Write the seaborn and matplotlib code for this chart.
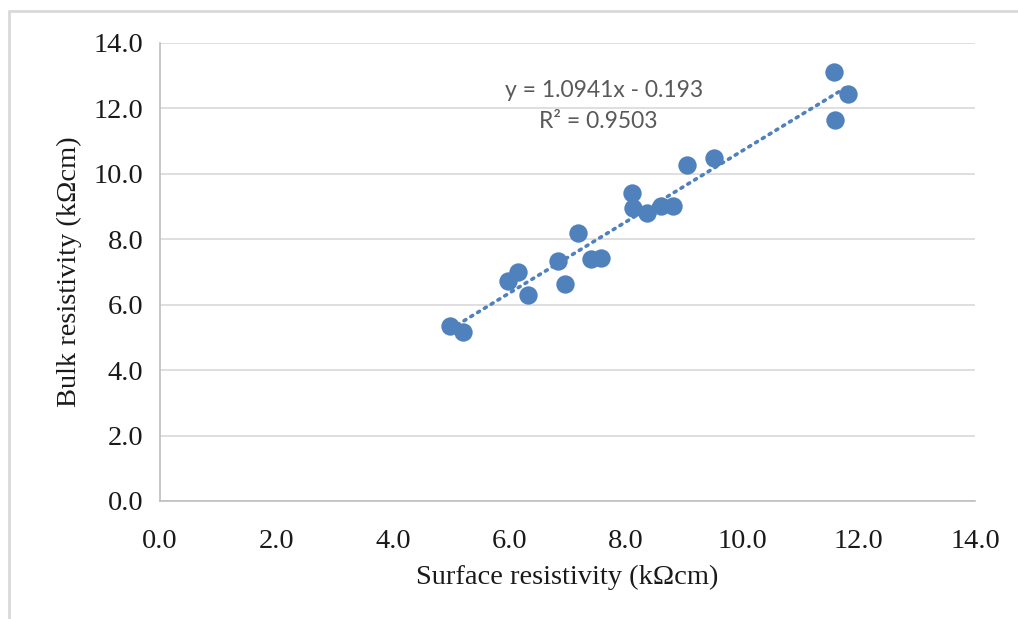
import numpy as np
import pandas as pd
import matplotlib
matplotlib.use("Agg")
import matplotlib.pyplot as plt
import seaborn as sns

surface = [4.99, 5.21, 5.98, 6.15, 6.33, 6.83, 6.96, 7.18, 7.40, 7.58,
           8.11, 8.13, 8.37, 8.60, 8.82, 9.06, 9.52, 11.57, 11.60, 11.81]
bulk = [5.35, 5.18, 6.72, 6.99, 6.30, 7.35, 6.64, 8.20, 7.39, 7.43,
        9.43, 8.97, 8.81, 9.03, 9.02, 10.28, 10.49, 13.12, 11.64, 12.45]
ticks = [0, 2, 4, 6, 8, 10, 12, 14]
tick_labels = ["0.0", "2.0", "4.0", "6.0", "8.0", "10.0", "12.0", "14.0"]
eq_text = "y = 1.0941x - 0.193"
r2_text = "R² = 0.9503"

df = pd.DataFrame({"surface": surface, "bulk": bulk})

sns.set_style("white")
plt.rcParams["font.family"] = ["Liberation Serif", "DejaVu Serif"]

blue = "#4F81BD"
fig = plt.figure(figsize=(10.18, 6.19), dpi=100)
ax = fig.add_axes([160 / 1018, 1 - 501 / 619, 815 / 1018, 458 / 619])

# trendline
coef = np.polyfit(df["surface"], df["bulk"], 1)
xs = np.array([df["surface"].min(), df["surface"].max()])
ax.plot(xs, np.polyval(coef, xs), color=blue, lw=2.6,
        linestyle=(0, (0.6, 1.6)), dash_capstyle="round", zorder=2)

sns.scatterplot(data=df, x="surface", y="bulk", ax=ax, color=blue,
                s=175, edgecolor=blue, linewidth=0, zorder=3)

ax.set_xlim(0, 14)
ax.set_ylim(0, 14)
ax.set_xticks(ticks)
ax.set_xticklabels(tick_labels)
ax.set_yticks(ticks)
ax.set_yticklabels(tick_labels)
ax.grid(axis="y", color="#D9D9D9", lw=1.2)
ax.set_axisbelow(True)
for s in ["top", "right"]:
    ax.spines[s].set_visible(False)
for s in ["left", "bottom"]:
    ax.spines[s].set_color("#BFBFBF")
    ax.spines[s].set_linewidth(1.2)
ax.tick_params(axis="both", which="major", labelsize=20.5, length=6,
               color="#BFBFBF", width=1.2, direction="out", colors="#BFBFBF",
               labelcolor="#1a1a1a")
ax.tick_params(axis="x", pad=14)
ax.tick_params(axis="y", pad=6)

ax.set_xlabel("Surface resistivity (kΩcm)", fontsize=20.5, color="#1a1a1a", labelpad=8)
ax.set_ylabel("Bulk resistivity (kΩcm)", fontsize=20.5, color="#1a1a1a", labelpad=8)

ax.text(7.63, 12.56, eq_text, fontsize=16.5, color="#595959", ha="center",
        va="center", family=["Lato", "DejaVu Sans"])
ax.text(7.52, 11.6, r2_text, fontsize=16.5, color="#595959", ha="center",
        va="center", family=["Lato", "DejaVu Sans"])

# outer frame (top and left edges)
fig.add_artist(plt.Line2D([9 / 1018, 1], [1 - 10.5 / 619, 1 - 10.5 / 619],
                          transform=fig.transFigure, color="#D9D9D9", lw=2))
fig.add_artist(plt.Line2D([9 / 1018, 9 / 1018], [0, 1 - 10.5 / 619],
                          transform=fig.transFigure, color="#D9D9D9", lw=2))

fig.savefig("out.png", dpi=100)
